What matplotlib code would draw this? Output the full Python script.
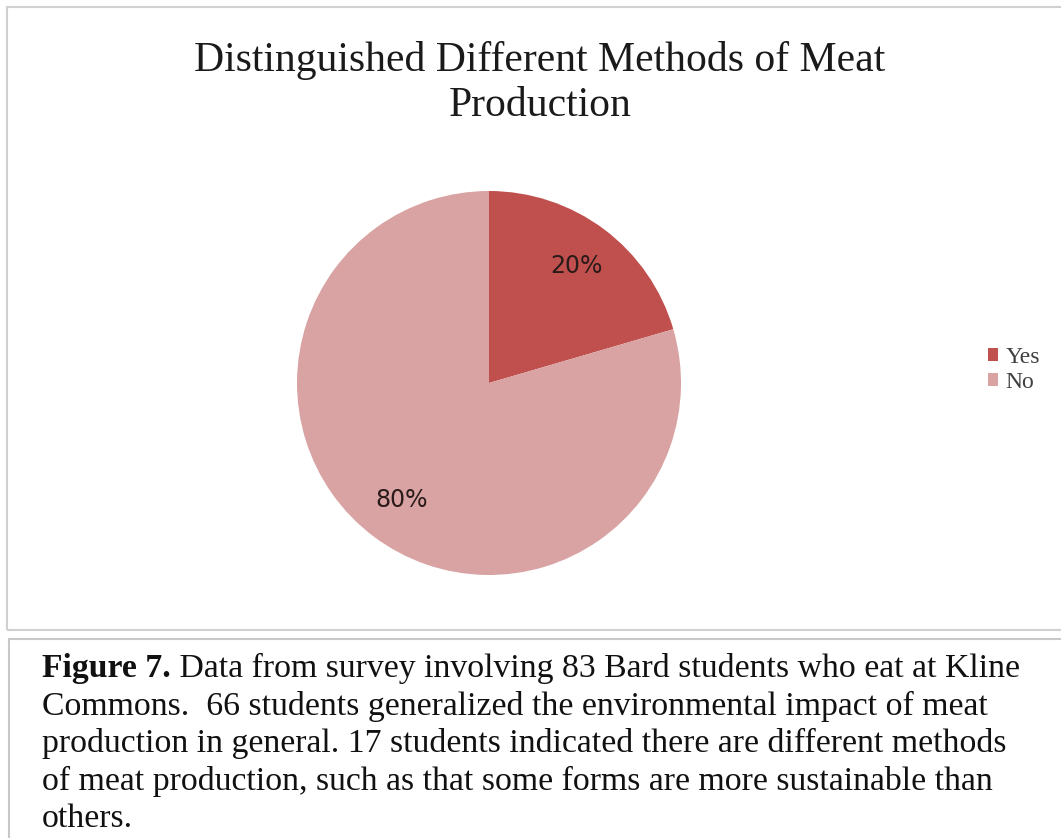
import matplotlib
matplotlib.use("Agg")
import matplotlib.pyplot as plt
from matplotlib.patches import Rectangle

# Data
labels = ["Yes", "No"]
counts = [17, 66]
colors = ["#C0504D", "#D9A3A3"]

title = "Distinguished Different Methods of Meat\nProduction"
caption_bold = "Figure 7."
caption_lines = [
    " Data from survey involving 83 Bard students who eat at Kline",
    "Commons.  66 students generalized the environmental impact of meat",
    "production in general. 17 students indicated there are different methods",
    "of meat production, such as that some forms are more sustainable than",
    "others.",
]

W, H = 1061, 838
fig = plt.figure(figsize=(W / 100, H / 100), dpi=100)
fig.patch.set_facecolor("white")


def fx(px):
    return px / W


def fy(py):
    return 1 - py / H


# Chart frame
fig.patches.append(Rectangle((fx(7), fy(630)), fx(1070) - fx(7), fy(7) - fy(630),
                             transform=fig.transFigure, fill=False,
                             edgecolor="#D0D0D0", linewidth=1.5))
# Caption frame
fig.patches.append(Rectangle((fx(9), fy(850)), fx(1070) - fx(9), fy(639) - fy(850),
                             transform=fig.transFigure, fill=False,
                             edgecolor="#C8C8C8", linewidth=1.5))

# Title
title_font = dict(family="Liberation Serif", size=30, color="#1a1a1a",
                  ha="center", va="baseline")
t1, t2 = title.split("\n")
fig.text(fx(540), fy(71), t1, **title_font)
fig.text(fx(540), fy(116), t2, **title_font)

# Pie
cx, cy, r = 489, 383, 192
ax = fig.add_axes([fx(cx - r), fy(cy + r), fx(2 * r), (2 * r) / H])
wedges, texts, autotexts = ax.pie(
    counts, colors=colors, startangle=90, counterclock=False,
    autopct=lambda p: f"{p:.0f}%", pctdistance=0.76,
    wedgeprops=dict(linewidth=0),
    textprops=dict(fontsize=17, family="DejaVu Sans", color="#2a1a1a"),
)
ax.set_xlim(-1, 1)
ax.set_ylim(-1, 1)

# Legend
fig.legend(wedges, labels, loc="center left", bbox_to_anchor=(fx(976), fy(370)),
           frameon=False, borderpad=0, handlelength=0.45, handleheight=0.45,
           handletextpad=0.3, labelspacing=0.18,
           prop=dict(family="Liberation Serif", size=17), labelcolor="#404040")

# Caption
x0 = 42
baselines = [677, 714.5, 752, 789.5, 827]
cap_font = dict(family="Liberation Serif", size=24.3, color="#111111", va="baseline")
t0 = fig.text(fx(x0), fy(baselines[0]), caption_bold, weight="bold", **cap_font)
fig.canvas.draw()
bb = t0.get_window_extent()
fig.text(fx(x0) + bb.width / W, fy(baselines[0]), caption_lines[0], **cap_font)
for ln, yy in zip(caption_lines[1:], baselines[1:]):
    fig.text(fx(x0), fy(yy), ln, **cap_font)

fig.savefig("out.png", dpi=100)
